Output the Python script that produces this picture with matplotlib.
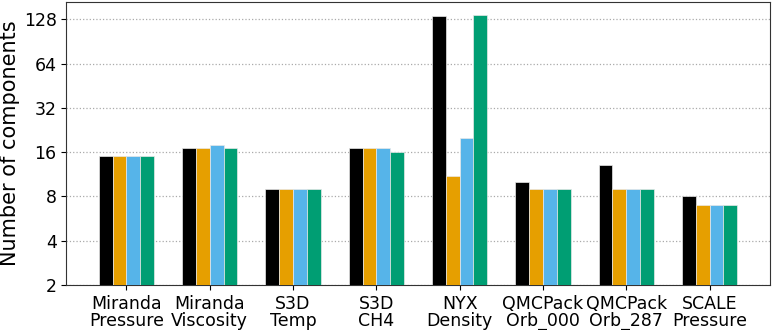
import matplotlib
matplotlib.use('Agg')
import matplotlib.pyplot as plt
import numpy as np

categories = ['Miranda\nPressure', 'Miranda\nViscosity', 'S3D\nTemp', 'S3D\nCH4',
              'NYX\nDensity', 'QMCPack\nOrb_000', 'QMCPack\nOrb_287', 'SCALE\nPressure']
series1 = [15, 17, 9, 17, 135, 10, 13, 8]
series2 = [15, 17, 9, 17, 11, 9, 9, 7]
series3 = [15, 18, 9, 17, 20, 9, 9, 7]
series4 = [15, 17, 9, 16, 137, 9, 9, 7]
yticks = [2, 4, 8, 16, 32, 64, 128]

colors = ['#000000', '#E69F00', '#56B4E9', '#009E73']
allSeries = [series1, series2, series3, series4]

fig, ax = plt.subplots(figsize=(7.72, 3.3), dpi=100)
x = np.arange(len(categories))
width = 0.166
for i, (vals, c) in enumerate(zip(allSeries, colors)):
    ax.bar(x + (i - 1.5) * width, vals, width, color=c, edgecolor='#e8e8e8', linewidth=0.5, zorder=3)

ax.set_yscale('log', base=2)
ax.set_ylim(2, 168)
ax.set_yticks(yticks)
ax.set_yticklabels([str(t) for t in yticks], fontsize=12.5)
ax.minorticks_off()
ax.set_xticks(x)
ax.set_xticklabels(categories, fontsize=12.5, linespacing=0.95)
ax.set_xlim(-0.72, 7.73)
ax.set_ylabel('Number of components', fontsize=15, labelpad=3)
ax.yaxis.grid(True, linestyle=':', color='#aaaaaa', linewidth=0.9, zorder=0)
for s in ax.spines.values():
    s.set_color('#333333')

fig.subplots_adjust(left=0.086, right=0.998, top=0.994, bottom=0.137)
fig.savefig('out.png', dpi=100)
